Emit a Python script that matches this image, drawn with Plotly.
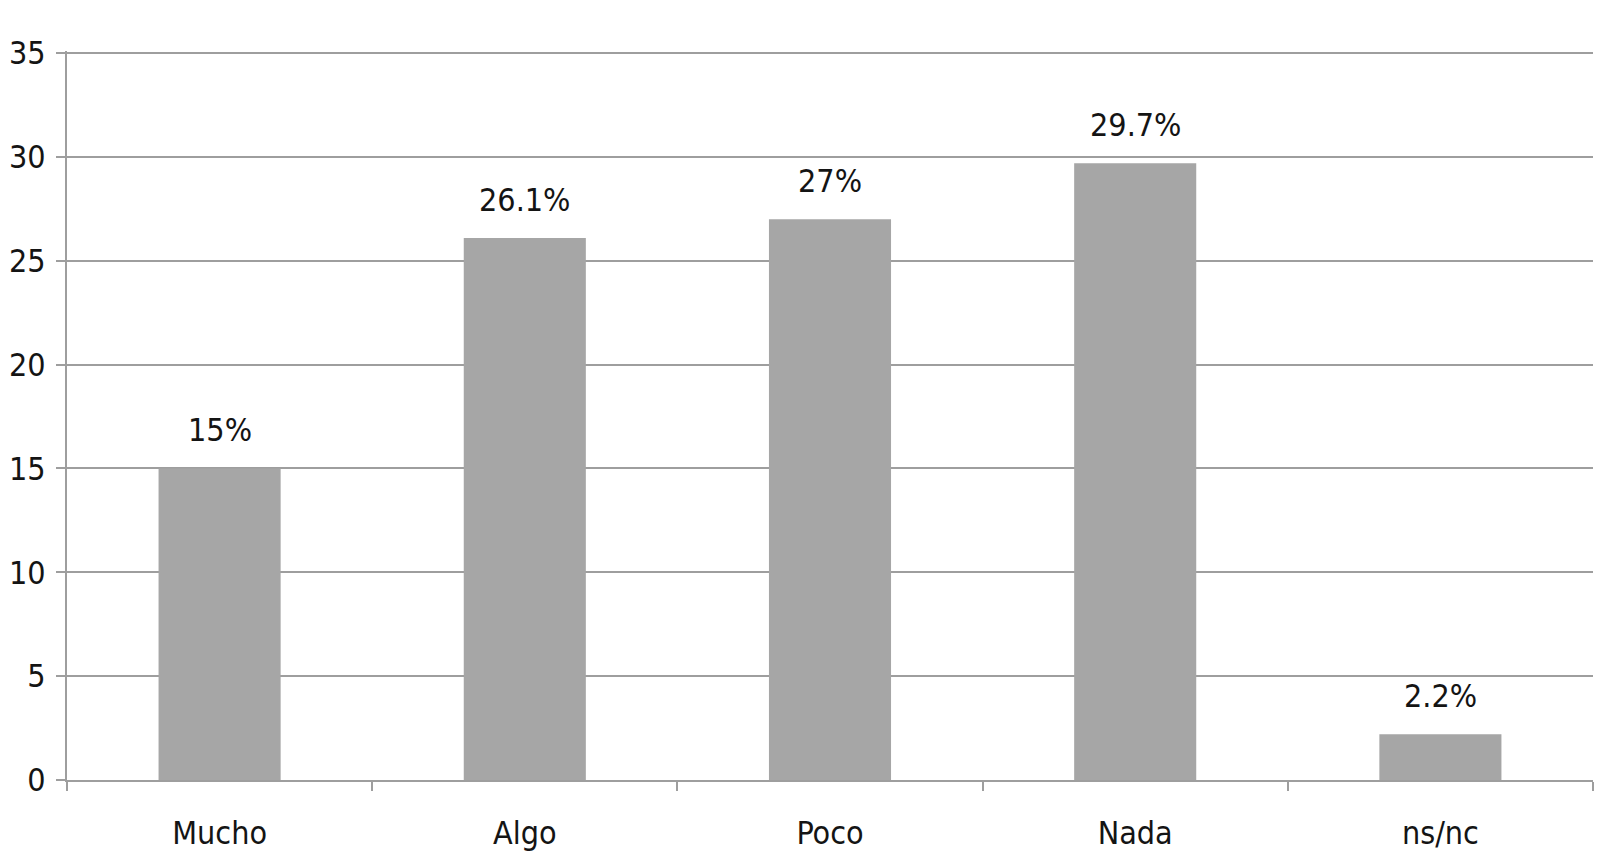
import plotly.graph_objects as go

categories = ["Mucho", "Algo", "Poco", "Nada", "ns/nc"]
values = [15, 26.1, 27, 29.7, 2.2]
labels = ["15%", "26.1%", "27%", "29.7%", "2.2%"]
y_ticks = [0, 5, 10, 15, 20, 25, 30, 35]

FONT = "DejaVu Sans Condensed, Liberation Sans Narrow, sans-serif"
TXT = "#141414"
GRID = "#9e9e9e"
FS = 32

fig = go.Figure()
fig.add_trace(go.Bar(
    x=categories, y=values,
    marker=dict(color="#a6a6a6", line=dict(width=0)),
    hoverinfo="skip",
))

for c, v, t in zip(categories, values, labels):
    fig.add_annotation(x=c, y=v, text=t, showarrow=False, yanchor="bottom",
                       yshift=17, font=dict(family=FONT, size=FS, color=TXT))

fig.update_layout(
    width=1600, height=858,
    margin=dict(l=59, r=15, t=43, b=86),
    paper_bgcolor="white", plot_bgcolor="white",
    bargap=0.6,
    showlegend=False,
    font=dict(family=FONT, size=FS, color=TXT),
    xaxis=dict(
        type="category", tickson="boundaries", automargin=False,
        ticks="outside", ticklen=9, tickwidth=2, tickcolor=GRID,
        showline=True, linecolor=GRID, linewidth=2,
        showgrid=False, ticklabelstandoff=24,
        tickfont=dict(family=FONT, size=FS, color=TXT),
    ),
    yaxis=dict(
        range=[0, 35.1], tickvals=y_ticks, automargin=False,
        ticks="outside", ticklen=9, tickwidth=2, tickcolor=GRID,
        showline=True, linecolor=GRID, linewidth=2,
        showgrid=True, gridcolor=GRID, gridwidth=2,
        zeroline=False, ticklabelstandoff=4,
        tickfont=dict(family=FONT, size=FS, color=TXT),
    ),
)

fig.write_html("out.html")
